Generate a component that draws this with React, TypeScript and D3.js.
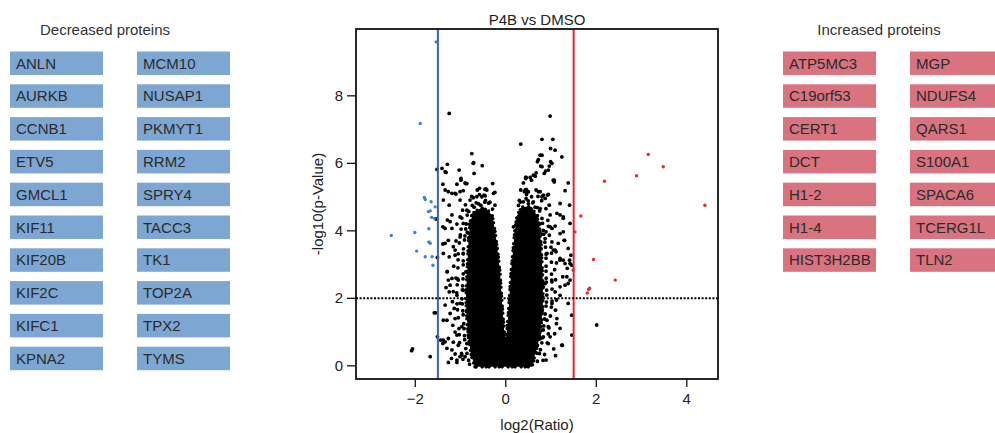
import React from 'react';
import * as d3 from 'd3';

// protein lists shown beside the plot
const decreased = ['ANLN', 'AURKB', 'CCNB1', 'ETV5', 'GMCL1', 'KIF11', 'KIF20B', 'KIF2C', 'KIFC1', 'KPNA2',
  'MCM10', 'NUSAP1', 'PKMYT1', 'RRM2', 'SPRY4', 'TACC3', 'TK1', 'TOP2A', 'TPX2', 'TYMS'];
const increased = ['ATP5MC3', 'C19orf53', 'CERT1', 'DCT', 'H1-2', 'H1-4', 'HIST3H2BB',
  'MGP', 'NDUFS4', 'QARS1', 'S100A1', 'SPACA6', 'TCERG1L', 'TLN2'];

const xTicks = [-2, 0, 2, 4];
const yTicks = [0, 2, 4, 6, 8];
const fcCut = 1.5;
const pCut = 2;

// outline of the saturated core of the cloud (log2 ratio, -log10 p)
const coreOutline: [number, number][] = [
  [-0.68, -0.03], [-0.76, 0.3], [-0.82, 0.8], [-0.86, 1.4], [-0.88, 2.0], [-0.86, 2.6], [-0.84, 3.2],
  [-0.82, 3.8], [-0.78, 4.3], [-0.7, 4.55], [-0.55, 4.68], [-0.4, 4.62], [-0.3, 4.45], [-0.24, 4.0],
  [-0.18, 3.4], [-0.13, 2.8], [-0.1, 2.2], [-0.07, 1.6], [-0.04, 1.1], [-0.01, 0.67], [0.03, 1.1],
  [0.06, 1.6], [0.09, 2.2], [0.12, 2.8], [0.16, 3.4], [0.2, 4.0], [0.25, 4.45], [0.35, 4.7],
  [0.5, 4.72], [0.65, 4.55], [0.74, 4.2], [0.78, 3.6], [0.8, 3.0], [0.82, 2.4], [0.82, 1.8],
  [0.78, 1.2], [0.72, 0.7], [0.64, 0.3], [0.58, -0.03],
];

// envelopes of the speckled fringe around the core
const leftFringeA: [number, number][] = [
  [-0.8, 0.05], [-0.9, 0.6], [-0.93, 1.3], [-0.97, 2.0], [-0.94, 2.7], [-0.94, 3.4], [-0.89, 4.0],
  [-0.85, 4.5], [-0.72, 4.8], [-0.55, 4.88], [-0.38, 4.82], [-0.27, 4.6],
];
const leftFringeB: [number, number][] = [
  [-0.92, 0.05], [-1.02, 0.6], [-1.04, 1.3], [-1.09, 2.0], [-1.06, 2.7], [-1.05, 3.4], [-0.99, 4.0],
  [-0.96, 4.6], [-0.8, 5.0], [-0.6, 5.08], [-0.4, 5.02],
];
const rightFringeA: [number, number][] = [
  [0.68, 0.05], [0.79, 0.6], [0.85, 1.3], [0.91, 2.0], [0.89, 2.7], [0.89, 3.4], [0.83, 4.0],
  [0.79, 4.5], [0.65, 4.8], [0.48, 4.9], [0.32, 4.85], [0.22, 4.6],
];
const rightFringeB: [number, number][] = [
  [0.8, 0.05], [0.91, 0.6], [0.97, 1.3], [1.03, 2.0], [1.01, 2.7], [1.01, 3.4], [0.95, 4.0],
  [0.91, 4.6], [0.75, 5.0], [0.55, 5.1], [0.35, 5.05],
];

const blackPts: [number, number][] = [
  [-1.25, 7.48], [0.98, 7.40], [0.33, 6.57], [0.80, 6.71], [1.04, 6.71], [-0.75, 6.29], [0.99, 6.44],
  [1.09, 6.39], [1.24, 6.19], [0.76, 6.24], [0.72, 6.11], [-0.72, 6.00], [-0.52, 5.93], [-1.29, 5.97],
  [-1.41, 5.85], [-1.34, 5.75], [-1.03, 5.80], [-0.70, 5.70], [0.99, 6.05], [0.77, 5.92], [0.61, 5.65],
  [0.65, 5.62], [0.45, 5.58], [0.85, 5.70], [0.94, 5.80], [1.05, 5.50], [1.38, 5.42], [1.31, 5.19],
  [-0.29, 5.40], [-0.90, 5.42], [-1.08, 5.38], [-0.99, 5.50], [-1.39, 5.38], [-1.34, 5.21], [-1.19, 5.11],
  [-0.94, 5.19], [-0.63, 5.21], [-0.44, 5.24], [-0.24, 5.14], [0.39, 5.42], [0.43, 5.21], [0.50, 5.16],
  [0.57, 5.01], [0.83, 5.06], [0.94, 5.08], [-0.71, 6.02], [-0.99, 5.55], [-0.86, 5.40], [-1.10, 5.09],
  [-0.58, 5.26], [-0.46, 5.23], [-0.64, 5.01], [-0.53, 5.01], [-0.72, 4.98], [0.70, 6.05], [0.96, 5.92],
  [0.88, 5.77], [0.67, 5.72], [0.54, 5.58], [0.57, 5.50], [0.44, 5.58], [1.07, 5.50], [0.45, 5.23],
  [0.41, 5.16], [0.49, 5.16], [0.80, 5.01], [0.92, 5.06], [0.72, 5.16], [-1.32, 5.73], [-1.27, 5.16],
  [-1.12, 5.11], [-1.01, 5.16], [-0.88, 5.40], [-1.38, 4.91], [-1.25, 4.76], [-1.01, 4.91], [-0.86, 4.61],
  [-0.79, 4.91], [-0.48, 5.06], [-0.42, 5.21], [-0.27, 5.11], [-0.24, 4.76], [-1.29, 4.32], [-1.19, 4.07],
  [-1.39, 4.12], [-1.27, 3.72], [-1.39, 3.61], [-1.16, 3.53], [-1.01, 4.41], [-0.94, 4.22], [-1.01, 3.82],
  [-1.12, 3.28], [-0.94, 3.33], [-1.38, 3.33], [-1.25, 3.23], [-1.51, 3.21], [-1.54, 4.35], [-1.52, 5.82],
  [0.80, 6.24], [1.02, 6.0], [0.80, 5.9], [0.44, 5.55], [1.07, 5.45], [0.33, 5.21], [0.67, 5.21],
  [0.76, 5.16], [0.39, 4.86], [0.87, 4.96], [0.61, 4.86], [0.96, 4.76], [1.20, 4.81], [0.57, 4.61],
  [0.76, 4.66], [1.13, 4.52], [1.27, 4.41], [1.42, 4.22], [0.28, 4.41], [0.17, 4.12], [0.98, 4.12],
  [1.20, 3.92], [0.87, 3.77], [1.02, 3.67], [1.29, 3.72], [1.38, 3.48], [1.09, 3.43], [0.91, 3.33],
  [1.20, 3.18], [1.44, 3.28], [1.46, 2.98], [1.41, 4.76], [1.20, 4.47], [1.27, 4.37], [0.98, 4.47],
  [1.09, 4.14], [1.02, 4.07], [1.27, 3.97], [0.89, 3.97], [1.30, 3.72], [1.16, 3.63], [1.05, 3.43],
  [1.11, 3.38], [1.20, 3.13], [1.41, 3.13], [1.42, 3.03], [1.26, 2.64], [1.02, 2.49], [1.20, 2.34],
  [0.83, 2.34], [-1.29, 2.79], [-1.19, 2.59], [-1.23, 2.39], [-1.25, 2.19], [-1.08, 2.09], [-1.34, 1.80],
  [-1.23, 1.55], [-1.30, 1.35], [-1.12, 1.40], [-0.97, 1.16], [-1.38, 0.76], [-1.27, 0.81], [-1.30, 0.52],
  [-1.19, 0.47], [-1.05, 0.61], [-1.01, 0.27], [-1.08, 0.17], [-0.90, 0.27], [-0.86, 0.66], [-0.83, 0.91],
  [-1.08, 0.91], [-0.86, 1.65], [-1.01, 1.85], [-0.94, 2.24], [-1.05, 2.54], [-0.88, 2.79], [0.76, 2.69],
  [0.87, 2.44], [0.76, 2.14], [1.09, 2.19], [1.20, 2.09], [1.31, 2.39], [1.02, 1.85], [0.80, 1.60],
  [1.13, 1.40], [0.91, 1.35], [0.80, 1.06], [1.20, 1.11], [0.76, 0.81], [0.94, 0.66], [0.69, 0.37],
  [0.54, 0.17], [1.24, 0.61], [1.38, 1.85], [1.35, 2.64], [1.42, 2.54], [1.38, 2.44], [1.27, 3.13],
  [1.31, 3.03], [1.36, 2.89], [0.94, 1.16], [0.98, 0.86], [0.83, 0.86], [0.69, 0.61], [0.89, 0.17],
  [0.50, 0.17], [2.01, 1.21], [1.46, 1.50], [1.46, 0.91], [1.25, 0.61], [-2.06, 0.50], [-2.08, 0.45],
  [-1.67, 0.27], [-1.58, 1.57], [-1.55, 1.57], [-1.51, 0.86], [-1.30, 2.79], [-1.12, 3.43], [-1.27, 2.54],
  [-1.32, 2.32], [-1.38, 1.35], [-1.34, 0.71], [-1.27, 0.10], [-1.44, 0.76], [-1.39, 0.66], [-1.08, 0.10],
  [-0.97, 0.32], [-1.34, 3.63], [-1.34, 4.07], [-1.23, 4.27], [-1.19, 4.47], [-0.6, 4.8], [-0.45, 4.9],
  [-0.35, 4.85], [-0.7, 4.7], [-0.55, 4.75], [0.3, 4.9], [0.45, 4.95], [0.5, 4.8], [0.65, 4.7],
  [0.35, 4.6], [0.7, 4.45], [-0.75, 4.45], [-0.8, 4.2], [0.75, 4.2], [0.8, 3.9], [-0.85, 3.95],
  [-1.15, 2.95], [-1.1, 2.6], [-1.16, 2.2], [-1.18, 1.9], [-1.14, 1.7], [-1.17, 1.2], [-1.12, 1.0],
  [-1.16, 0.7], [-1.12, 0.35], [-1.2, 0.22], [1.1, 0.3], [1.06, 0.5], [1.08, 0.95], [1.12, 1.25],
  [1.1, 1.65], [1.12, 1.95], [1.1, 2.55], [1.08, 2.85], [1.12, 3.05], [-1.1, 3.7], [-1.08, 4.2],
];

const downPts: [number, number][] = [
  [-1.54, 9.6], [-1.89, 7.18], [-1.80, 4.99], [-1.78, 4.93], [-1.65, 4.86], [-1.56, 4.71], [-1.71, 4.57],
  [-1.67, 4.59], [-1.64, 4.40], [-1.58, 4.37], [-2.53, 3.86], [-2.01, 3.95], [-1.70, 4.06], [-1.70, 3.67],
  [-1.67, 3.63], [-1.97, 3.40], [-1.78, 3.23], [-1.63, 3.23], [-1.61, 2.98],
];

const upPts: [number, number][] = [
  [2.18, 5.47], [2.89, 5.63], [3.15, 6.26], [3.48, 5.90], [4.40, 4.76], [1.66, 4.44], [1.94, 3.15],
  [2.42, 2.54], [1.83, 2.26], [1.80, 2.16], [1.85, 2.30], [1.49, 2.84], [1.53, 3.97],
];

const font = '"Liberation Sans", Arial, sans-serif';

const Boxes = ({ names, perCol, x0, colGap, title, titleX, fill }:
  { names: string[]; perCol: number; x0: number; colGap: number; title: string; titleX: number; fill: string }) => (
  <g>
    <text x={titleX} y={35} textAnchor="middle" fontSize={15} fill="#333">{title}</text>
    {names.map((n, i) => {
      const col = Math.floor(i / perCol), row = i % perCol;
      const bx = x0 + col * colGap, by = 51.5 + row * 32.8;
      return (
        <g key={n}>
          <rect x={bx} y={by} width={93} height={23.5} fill={fill} />
          <text x={bx + 6} y={by + 17} fontSize={15} fill="#2b2b2b">{n}</text>
        </g>
      );
    })}
  </g>
);

export default function App() {
  const left = 356, right = 718, top = 29, bottom = 379;
  const x = d3.scaleLinear().domain([-3.31, 4.69]).range([left, right]);
  const y = d3.scaleLinear().domain([-0.39, 9.98]).range([bottom, top]);
  const line = d3.line<[number, number]>().x(d => x(d[0])).y(d => y(d[1]));
  const core = line.curve(d3.curveLinearClosed)(coreOutline) || '';
  const open = d3.line<[number, number]>().x(d => x(d[0])).y(d => y(d[1])).curve(d3.curveLinear);
  const fringes: [[number, number][], string, number][] = [
    [leftFringeA, '0 4 0 7 0 5 0 9', 0], [leftFringeB, '0 8 0 6 0 11', 3],
    [rightFringeA, '0 5 0 8 0 4 0 7', 2], [rightFringeB, '0 9 0 6 0 12', 5],
  ];

  return (
    <div style={{ position: 'absolute', left: 0, top: 0 }}>
      <svg width={995} height={433} style={{ display: 'block', fontFamily: font }}>
        <rect width={995} height={433} fill="#fff" />
        <Boxes names={decreased} perCol={10} x0={10} colGap={127} title="Decreased proteins" titleX={105} fill="#7ea6d2" />
        <Boxes names={increased} perCol={7} x0={783} colGap={127} title="Increased proteins" titleX={879} fill="#d8737f" />

        <text x={(left + right) / 2} y={25} textAnchor="middle" fontSize={15} fill="#222">P4B vs DMSO</text>

        <path d={core} fill="#000" stroke="#000" strokeWidth={3.6} strokeDasharray="0 4 0 6 0 3" strokeLinecap="round" />
        {fringes.map(([pts, dash, off], i) => (
          <path key={'f' + i} d={open(pts) || ''} fill="none" stroke="#000" strokeWidth={3.8}
            strokeDasharray={dash} strokeDashoffset={off} strokeLinecap="round" />
        ))}
        {blackPts.map((d, i) => <circle key={'b' + i} cx={x(d[0])} cy={y(d[1])} r={1.9} fill="#000" />)}

        <line x1={x(-fcCut)} x2={x(-fcCut)} y1={top} y2={bottom} stroke="#3d5fc0" strokeWidth={2} />
        <line x1={x(fcCut)} x2={x(fcCut)} y1={top} y2={bottom} stroke="#e8232c" strokeWidth={2} />
        <line x1={left} x2={right} y1={y(pCut)} y2={y(pCut)} stroke="#000" strokeWidth={2} strokeDasharray="2,1.6" />

        {downPts.map((d, i) => <circle key={'d' + i} cx={x(d[0])} cy={y(d[1])} r={1.7} fill="#3b82cf" />)}
        {upPts.map((d, i) => <circle key={'u' + i} cx={x(d[0])} cy={y(d[1])} r={1.7} fill="#e32a2f" />)}

        <rect x={left} y={top} width={right - left} height={bottom - top} fill="none" stroke="#111" strokeWidth={1.8} />

        {xTicks.map(t => (
          <g key={'x' + t}>
            <line x1={x(t)} x2={x(t)} y1={bottom} y2={bottom + 8} stroke="#111" strokeWidth={1.3} />
            <text x={x(t)} y={bottom + 25} textAnchor="middle" fontSize={15} fill="#222">{t < 0 ? '\u2212' + Math.abs(t) : t}</text>
          </g>
        ))}
        {yTicks.map(t => (
          <g key={'y' + t}>
            <line x1={left - 9} x2={left} y1={y(t)} y2={y(t)} stroke="#111" strokeWidth={1.3} />
            <text x={left - 13} y={y(t) + 5} textAnchor="end" fontSize={15} fill="#222">{t}</text>
          </g>
        ))}
        <text x={(left + right) / 2} y={430} textAnchor="middle" fontSize={15} fill="#222">log2(Ratio)</text>
        <text transform={`translate(323,${(top + bottom) / 2}) rotate(-90)`} textAnchor="middle" fontSize={15} fill="#222">-log10(p-Value)</text>
      </svg>
    </div>
  );
}
